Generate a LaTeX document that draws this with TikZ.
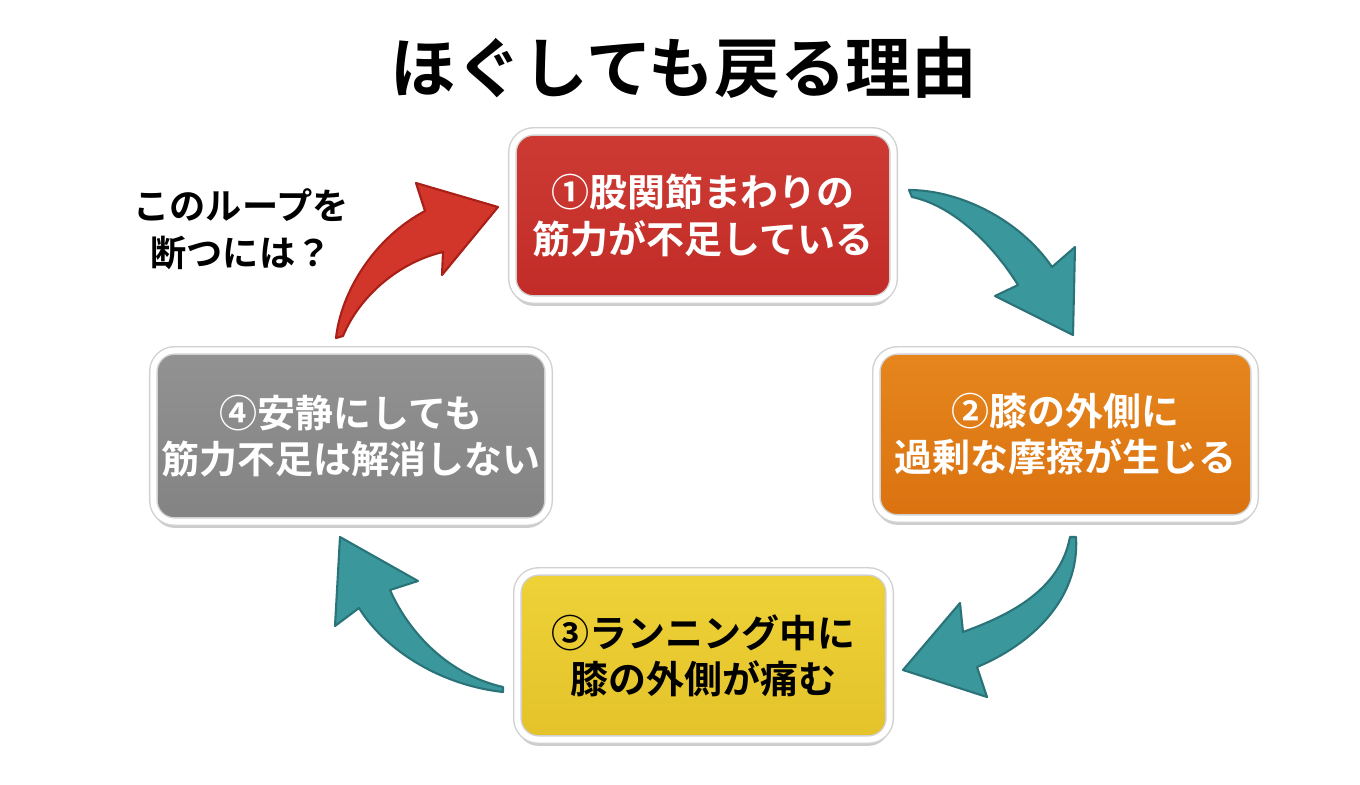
\documentclass[tikz,border=0pt]{standalone}
\usepackage{fontspec}
\newfontfamily\jp{Noto Sans CJK JP}[BoldFont={Noto Sans CJK JP Bold}]
\usetikzlibrary{shadows}
\definecolor{boxred}{HTML}{C22C28}
\definecolor{boxredtop}{HTML}{CD3A33}
\definecolor{boxorange}{HTML}{DA7210}
\definecolor{boxorangetop}{HTML}{E6861D}
\definecolor{boxyellow}{HTML}{E4C22A}
\definecolor{boxyellowtop}{HTML}{EED238}
\definecolor{boxgray}{HTML}{838383}
\definecolor{boxgraytop}{HTML}{929292}
\definecolor{tealfill}{HTML}{3A989C}
\definecolor{tealedge}{HTML}{2A7378}
\definecolor{redfill}{HTML}{D2352A}
\definecolor{rededge}{HTML}{A82018}
\tikzset{
  stepbox/.style={draw=black!18, line width=0.4pt, double=white, double distance=1.7pt,
    rounded corners=6pt, align=center,
    inner sep=0pt, minimum height=1.68cm,
    font=\jp\bfseries\fontsize{10.8}{13.1}\selectfont,
    drop shadow={opacity=0.28, shadow xshift=0pt, shadow yshift=-1.8pt, fill=black!70}},
  tealarrow/.style={fill=tealfill, draw=tealedge, line width=0.6pt, line join=round},
  redarrow/.style={fill=redfill, draw=rededge, line width=0.6pt, line join=round},
}
\begin{document}
\begin{tikzpicture}[x=0.01cm,y=-0.01cm]
\fill[white] (0,0) rectangle (1360,784);
\useasboundingbox (0,0) rectangle (1360,784);

\node[font=\jp\bfseries\fontsize{18.7}{22}\selectfont] (title) at (684,68) {ほぐしても戻る理由};

\node[stepbox, top color=boxredtop, bottom color=boxred, text=white, minimum width=3.81cm] (s1) at (703,215.5) {①股関節まわりの\\筋力が不足している};
\node[stepbox, top color=boxorangetop, bottom color=boxorange, text=white, minimum width=3.78cm] (s2) at (1065.5,434.5) {②膝の外側に\\過剰な摩擦が生じる};
\node[stepbox, top color=boxyellowtop, bottom color=boxyellow, text=black, minimum width=3.72cm] (s3) at (703.5,655.5) {③ランニング中に\\膝の外側が痛む};
\node[stepbox, top color=boxgraytop, bottom color=boxgray, text=white, minimum width=3.95cm, minimum height=1.71cm] (s4) at (351,436) {④安静にしても\\筋力不足は解消しない};

\node[align=center, font=\jp\bfseries\fontsize{10.3}{13.4}\selectfont] (q) at (241,229) {このループを\\断つには？};

% red arrow (4 -> 1)
\draw[redarrow] (336,338) .. controls (341,292) and (374,238) .. (425,211)
  -- (416,183) -- (498,207) -- (442,275) -- (443,252)
  .. controls (400,262) and (360,295) .. (343,336) -- cycle;
% teal arrow (1 -> 2)
\draw[tealarrow] (909,190) .. controls (960,190) and (1020,220) .. (1052,267)
  -- (1075,247) -- (1073,335) -- (995,296) -- (1018,285)
  .. controls (990,240) and (950,205) .. (912,197) -- cycle;
% teal arrow (2 -> 3)
\draw[tealarrow] (1076,537) .. controls (1080,600) and (1030,645) .. (977,667)
  -- (987,697) -- (903,670) -- (960,603) -- (963,632)
  .. controls (1010,615) and (1060,590) .. (1070,537) -- cycle;
% teal arrow (3 -> 4)
\draw[tealarrow] (503,692) .. controls (440,685) and (385,650) .. (359,608)
  -- (335,626) -- (340,537) -- (418,581) -- (390,590)
  .. controls (410,635) and (450,675) .. (503,687) -- cycle;
\end{tikzpicture}
\end{document}
